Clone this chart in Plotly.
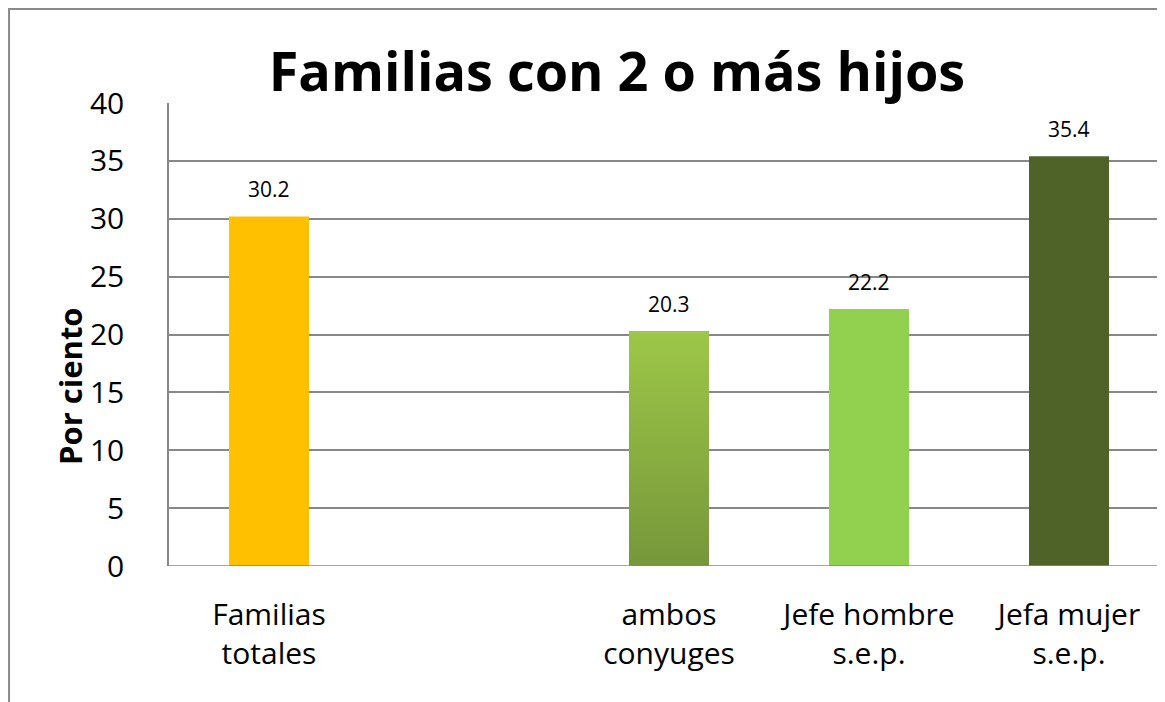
import plotly.graph_objects as go

# Datos
categorias = ['Familias<br>totales', 'ambos<br>conyuges', 'Jefe hombre<br>s.e.p.', 'Jefa mujer<br>s.e.p.']
posiciones = [0, 2, 3, 4]
valores = [30.2, 20.3, 22.2, 35.4]
colores = ['#FFC000', '#8BAF40', '#92D050', '#4F6228']
y_ticks = [0, 5, 10, 15, 20, 25, 30, 35, 40]

ANCHO_BARRA = 0.4
FUENTE = 'Open Sans'

fig = go.Figure()

fig.add_trace(go.Bar(
    x=posiciones,
    y=valores,
    width=ANCHO_BARRA,
    marker=dict(color=colores, line=dict(width=0)),
    hovertemplate='%{y:.1f}<extra></extra>',
    showlegend=False
))

# Degradado de la barra "ambos conyuges"
i = 1
x0 = posiciones[i] - ANCHO_BARRA / 2
x1 = posiciones[i] + ANCHO_BARRA / 2
fig.add_trace(go.Scatter(
    x=[x0, x1, x1, x0, x0],
    y=[0, 0, valores[i], valores[i], 0],
    fill='toself',
    fillgradient=dict(
        type='vertical',
        colorscale=[[0, '#76973A'], [1, '#9DC748']]
    ),
    line=dict(width=0),
    mode='lines',
    hoverinfo='skip',
    showlegend=False
))

# Etiquetas de datos
anotaciones = [
    dict(x=p, y=v, text=f'{v:.1f}', showarrow=False,
         xanchor='center', yanchor='bottom', yshift=11,
         font=dict(family=FUENTE, size=21, color='#000000'))
    for p, v in zip(posiciones, valores)
]

# Título del eje Y (desplazado hacia abajo como en el original)
anotaciones.append(dict(
    x=-0.0994, y=0.3888, xref='paper', yref='paper',
    text='<b>Por ciento</b>', textangle=-90, showarrow=False,
    xanchor='center', yanchor='middle',
    font=dict(family=FUENTE, size=31, color='#000000')
))

fig.update_layout(
    width=1165,
    height=702,
    paper_bgcolor='white',
    plot_bgcolor='white',
    margin=dict(l=161, r=8, t=95, b=144),
    title=dict(
        text='<b>Familias con 2 o más hijos</b>',
        font=dict(family=FUENTE, size=54, color='#000000'),
        x=0.5227, xanchor='center',
        y=0.8818, yanchor='bottom'
    ),
    xaxis=dict(
        range=[-0.5, 4.48],
        tickvals=posiciones,
        ticktext=categorias,
        tickfont=dict(family=FUENTE, size=30, color='#000000'),
        showgrid=False,
        zeroline=False,
        showline=False,
        ticks='',
        ticklabelstandoff=28
    ),
    yaxis=dict(
        range=[0, 40],
        tickvals=y_ticks,
        tickfont=dict(family=FUENTE, size=30, color='#000000'),
        showgrid=True,
        gridcolor='#888888',
        gridwidth=1.5,
        zeroline=False,
        showline=True,
        linecolor='#888888',
        linewidth=1.5,
        ticks='',
        ticklabelstandoff=37
    ),
    annotations=anotaciones,
    shapes=[
        dict(type='rect', xref='paper', yref='paper',
             x0=-0.1606, x1=1.05, y0=-0.4, y1=1.2030,
             line=dict(color='#8A8A8A', width=2), layer='below'),
        dict(type='line', xref='paper', yref='y',
             x0=0, x1=1, y0=0, y1=0,
             line=dict(color='#888888', width=1.5), layer='above')
    ]
)

fig.write_html('out.html')
